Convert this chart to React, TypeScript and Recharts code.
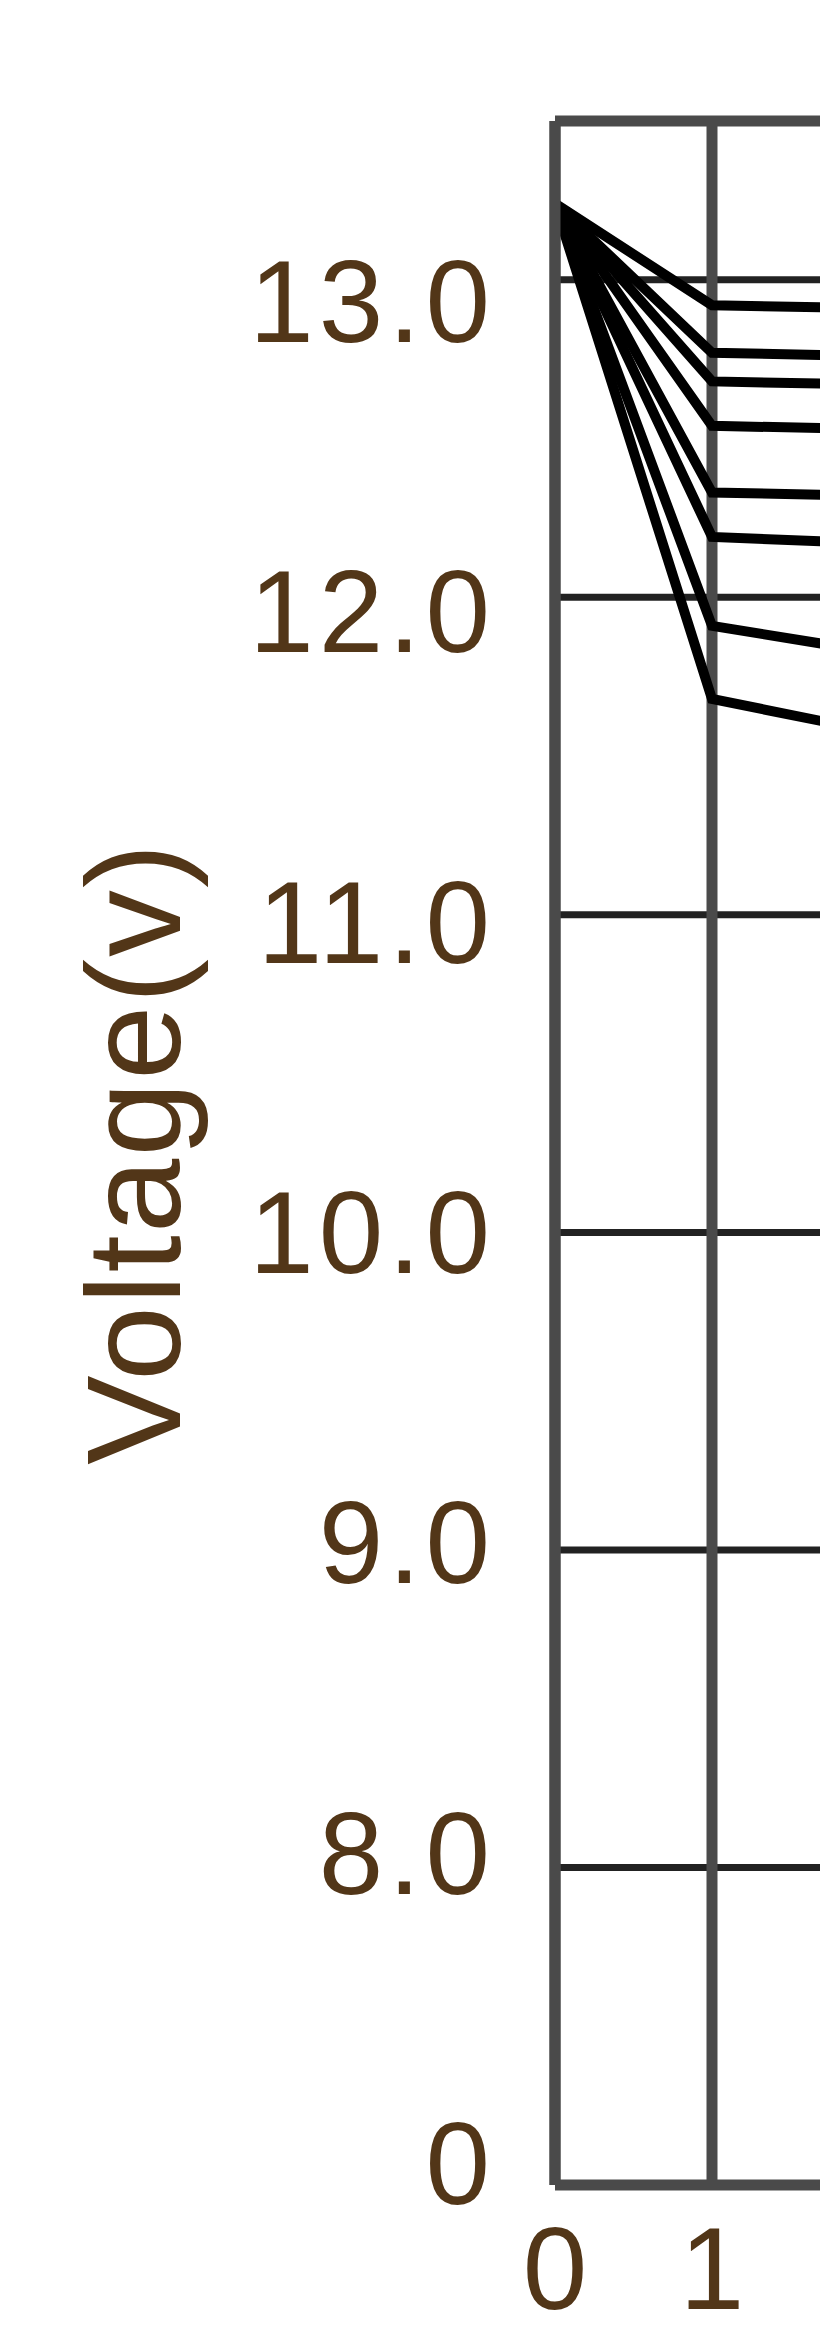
import React from 'react';
import { LineChart, Line, XAxis, YAxis, CartesianGrid, ReferenceLine } from 'recharts';

// x positions (cycles)
const xValues = [0, 1, 2];

// voltage series
const series1 = [13.24, 12.92, 12.91];
const series2 = [13.24, 12.77, 12.76];
const series3 = [13.24, 12.68, 12.67];
const series4 = [13.24, 12.54, 12.53];
const series5 = [13.24, 12.33, 12.32];
const series6 = [13.24, 12.19, 12.17];
const series7 = [13.24, 11.91, 11.83];
const series8 = [13.24, 11.68, 11.58];

const allSeries = [series1, series2, series3, series4, series5, series6, series7, series8];

// axis ticks
const yTickValues = [0, 8, 9, 10, 11, 12, 13];
const yTickLabels = ['0', '8.0', '9.0', '10.0', '11.0', '12.0', '13.0'];
const yMax = 13.5;
const xDomainMax = 10;
const xTicks = [0, 1];

// broken axis: 0..8 squeezed into one band, then 1 V per band
const toAxis = (v: number) => (v >= 8 ? v - 7 : v / 8);

const data = xValues.map((x, i) => {
  const row: Record<string, number> = { x };
  allSeries.forEach((s, k) => {
    row[`s${k}`] = toAxis(s[i]);
  });
  return row;
});

const yTicksAxis = yTickValues.map(toAxis);
const labelFor = (t: number) => {
  const idx = yTicksAxis.findIndex((v) => Math.abs(v - t) < 1e-9);
  return idx >= 0 ? yTickLabels[idx] : '';
};

const textColor = '#523618';
const font = '"Liberation Sans", Arial, sans-serif';

// the original labels sit on a slightly tighter pitch than the grid
const YTick = (props: any) => {
  const { x, y, payload } = props;
  const ly = 27 + 0.9775 * y;
  return (
    <text
      x={x}
      y={ly}
      dy="0.355em"
      textAnchor="end"
      fill={textColor}
      fontSize={116}
      fontFamily={font}
      letterSpacing={5}
    >
      {labelFor(payload.value)}
    </text>
  );
};

export default function App() {
  return (
    <div style={{ width: 820, height: 2332, overflow: 'hidden' }}>
      <LineChart
        width={2117}
        height={2332}
        data={data}
        margin={{ top: 113, right: 0, bottom: 0, left: 0 }}
      >
        <CartesianGrid horizontal={true} vertical={false} stroke="#222" strokeWidth={7} />
        <CartesianGrid horizontal={false} vertical={true} stroke="#4a4a4a" strokeWidth={11} />
        <ReferenceLine y={toAxis(yMax)} stroke="#4a4a4a" strokeWidth={11} />
        <XAxis
          dataKey="x"
          type="number"
          domain={[0, xDomainMax]}
          ticks={xTicks}
          interval={0}
          height={155}
          tickSize={0}
          tickMargin={42}
          axisLine={{ stroke: '#4a4a4a', strokeWidth: 11 }}
          tickLine={false}
          tick={{ fill: textColor, fontSize: 116, fontFamily: font }}
        />
        <YAxis
          type="number"
          domain={[0, toAxis(yMax)]}
          ticks={yTicksAxis}
          interval={0}
          width={547}
          tickSize={0}
          tickMargin={60}
          tickLine={false}
          axisLine={{ stroke: '#4a4a4a', strokeWidth: 11 }}
          tick={<YTick />}
          label={{
            value: 'Voltage(v)',
            angle: -90,
            position: 'insideLeft',
            offset: 124,
            style: { textAnchor: 'middle', fill: textColor, fontSize: 134, fontFamily: font, letterSpacing: 2 },
          }}
        />
        {allSeries.map((_, k) => (
          <Line
            key={k}
            dataKey={`s${k}`}
            type="linear"
            stroke="#000"
            strokeWidth={10}
            dot={false}
            activeDot={false}
            isAnimationActive={false}
          />
        ))}
      </LineChart>
    </div>
  );
}
